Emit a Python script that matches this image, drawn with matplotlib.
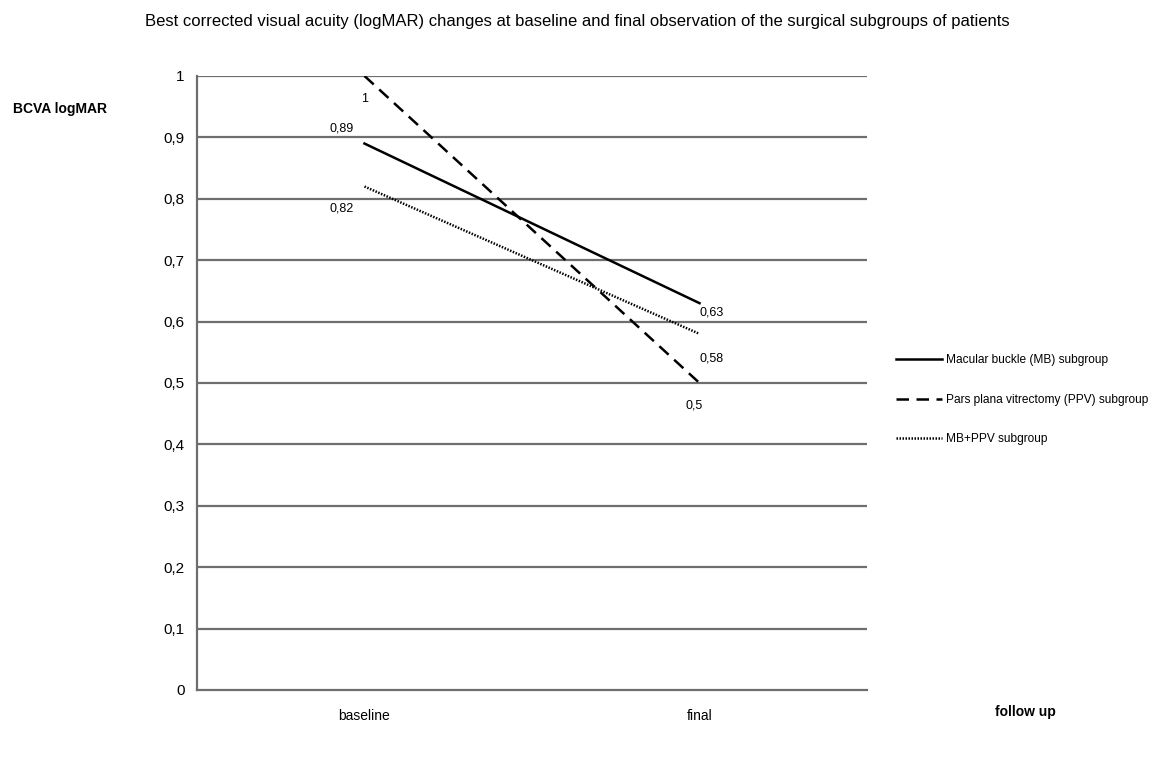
import matplotlib.pyplot as plt
import numpy as np

plt.rcParams['font.family'] = ['Liberation Sans', 'DejaVu Sans']

categories = ['baseline', 'final']
series_names = ['Macular buckle (MB) subgroup',
                'Pars plana vitrectomy (PPV) subgroup',
                'MB+PPV subgroup']
mb = [0.89, 0.63]
ppv = [1.0, 0.5]
mbppv = [0.82, 0.58]
yticks = [0, 0.1, 0.2, 0.3, 0.4, 0.5, 0.6, 0.7, 0.8, 0.9, 1.0]
ytick_labels = ['0', '0,1', '0,2', '0,3', '0,4', '0,5', '0,6', '0,7', '0,8', '0,9', '1']

fig = plt.figure(figsize=(11.54, 7.63), dpi=100)
ax = fig.add_axes([0.1707, 0.0957, 0.5806, 0.8047])

x = np.arange(len(categories))
grey = '#6e6e6e'
for yv in yticks[1:]:
    ax.axhline(yv, color=grey, lw=1.6, zorder=1)

l1, = ax.plot(x, mb, color='black', lw=1.8, ls='-', zorder=3)
l2, = ax.plot(x, ppv, color='black', lw=1.8, ls=(0, (5, 3)), zorder=3)
l3, = ax.plot(x, mbppv, color='black', lw=1.8, ls=(0, (0.6, 0.6)), zorder=3)

# data labels, offsets in points
def lab(xi, yi, txt, dx, dy):
    ax.annotate(txt, (xi, yi), xytext=(dx, dy), textcoords='offset points',
                ha='center', va='center', fontsize=9)

lab(x[0], ppv[0], '1', 0, -16.5)
lab(x[0], mb[0], '0,89', -16.5, 10.5)
lab(x[0], mbppv[0], '0,82', -16.5, -16)
lab(x[1], mb[1], '0,63', 8.6, -7)
lab(x[1], mbppv[1], '0,58', 8.6, -18)
lab(x[1], ppv[1], '0,5', -3.6, -16.5)

ax.set_xlim(-0.5, 1.5)
ax.set_ylim(0, 1)
ax.set_xticks(x)
ax.set_xticklabels(categories, fontsize=10)
ax.set_yticks(yticks)
ax.set_yticklabels(ytick_labels, fontsize=11)
ax.tick_params(axis='x', length=0, pad=14)
ax.tick_params(axis='y', length=0, pad=9)
for s in ['top', 'right']:
    ax.spines[s].set_visible(False)
for s in ['left', 'bottom']:
    ax.spines[s].set_color(grey)
    ax.spines[s].set_linewidth(1.6)

fig.legend([l1, l2, l3], series_names, loc='center left',
           bbox_to_anchor=(0.767, 0.476), frameon=False, fontsize=8.6,
           handlelength=3.85, handletextpad=0.35, labelspacing=2.3)

fig.text(0.5, 0.972, 'Best corrected visual acuity (logMAR) changes at baseline and final observation of the surgical subgroups of patients',
         ha='center', va='center', fontsize=12)
fig.text(0.011, 0.857, 'BCVA logMAR', ha='left', va='center', fontsize=10, fontweight='bold')
fig.text(0.862, 0.067, 'follow up', ha='left', va='center', fontsize=10, fontweight='bold')

fig.savefig('out.png', dpi=100, facecolor='white')
